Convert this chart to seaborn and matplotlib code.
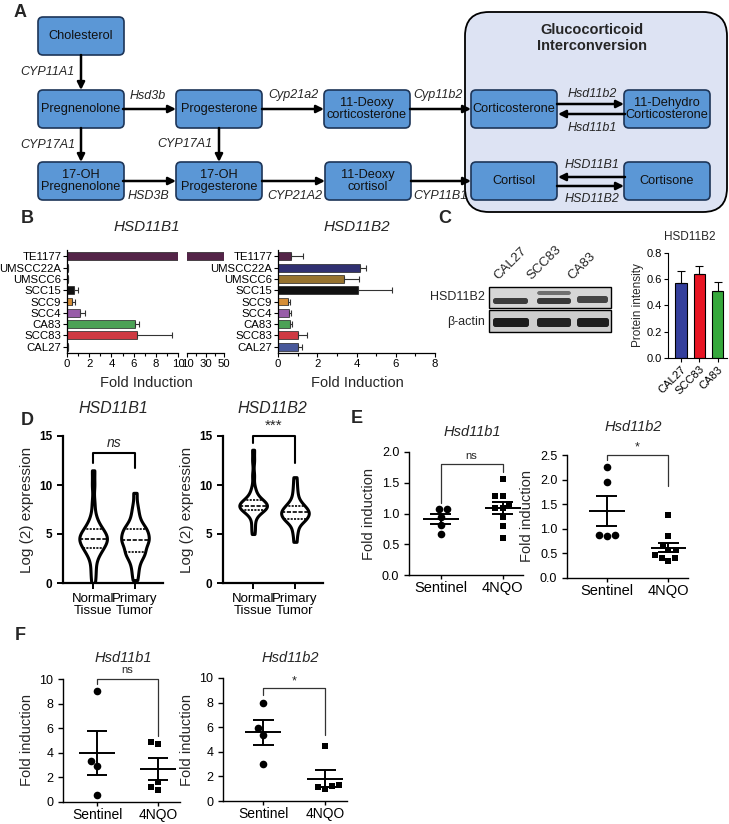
import numpy as np
import pandas as pd
import matplotlib
matplotlib.use("Agg")
import matplotlib.pyplot as plt
from matplotlib.patches import FancyBboxPatch, Rectangle
from matplotlib.ticker import FormatStrFormatter
import seaborn as sns

sns.set_style("ticks")
plt.rcParams["font.family"] = ["Liberation Sans", "DejaVu Sans"]
plt.rcParams["axes.edgecolor"] = "black"
plt.rcParams["xtick.color"] = "black"
plt.rcParams["ytick.color"] = "black"

# ---- data ----
# panel B: qPCR fold induction per cell line
b_cells = ["TE1177", "UMSCC22A", "UMSCC6", "SCC15", "SCC9", "SCC4", "CA83", "SCC83", "CAL27"]
b_colors = ["#5c1c4c", "#25257c", "#a8781e", "#111111", "#f0901c",
            "#a050b4", "#3cb04a", "#e8202c", "#3a50a8"]
hsd11b1_fold = [49.5, 0.05, 0.1, 0.6, 0.48, 1.14, 6.1, 6.3, 0.1]
hsd11b1_err = [0.0, 0.0, 0.0, 0.4, 0.22, 0.46, 0.4, 3.2, 0.0]
hsd11b2_fold = [0.68, 4.19, 3.37, 4.07, 0.5, 0.57, 0.6, 1.02, 1.02]
hsd11b2_err = [0.57, 0.31, 0.76, 1.76, 0.12, 0.11, 0.12, 0.45, 0.18]

# panel C: western blot quantification
c_lanes = ["CAL27", "SCC83", "CA83"]
c_colors = ["#343f9c", "#e81624", "#36a83c"]
c_intensity = [0.57, 0.64, 0.51]
c_err = [0.09, 0.06, 0.07]

# panel D: log2 expression
d_groups = ["Normal\nTissue", "Primary\nTumor"]
d1_normal = [0.0, 0.8, 1.5, 2.2, 2.8, 3.1, 3.3, 3.5, 3.6, 3.8, 4.0, 4.2, 4.3, 4.4, 4.5,
             4.5, 4.6, 4.8, 4.9, 5.0, 5.2, 5.4, 5.5, 5.7, 6.0, 6.4, 7.0, 8.2, 10.0, 11.5]
d1_tumor = [0.3, 1.0, 1.6, 2.1, 2.5, 2.8, 3.0, 3.1, 3.2, 3.5, 3.8, 4.0, 4.1, 4.3, 4.4,
            4.4, 4.6, 4.8, 5.0, 5.1, 5.3, 5.5, 5.5, 5.7, 6.0, 6.3, 6.8, 7.3, 8.0, 9.2]
d2_normal = [5.0, 5.6, 6.2, 6.8, 7.1, 7.3, 7.4, 7.5, 7.5, 7.6, 7.7, 7.8, 7.8, 7.9, 7.9,
             7.9, 8.0, 8.1, 8.2, 8.3, 8.3, 8.4, 8.5, 8.7, 9.0, 9.3, 9.8, 11.0, 12.5, 13.6]
d2_tumor = [4.2, 4.9, 5.4, 5.8, 6.1, 6.3, 6.4, 6.5, 6.6, 6.7, 6.8, 6.9, 7.0, 7.1, 7.2,
            7.2, 7.3, 7.4, 7.5, 7.6, 7.7, 7.9, 7.9, 8.1, 8.3, 8.6, 9.0, 9.5, 10.1, 10.8]

# panels E / F: mouse fold induction
ef_groups = ["Sentinel", "4NQO"]
e1_sentinel = [1.07, 1.07, 0.95, 0.815, 0.66]
e1_nqo = [1.56, 1.28, 1.28, 1.15, 1.09, 1.09, 0.95, 0.80, 0.60]
e2_sentinel = [2.26, 1.96, 0.85, 0.88, 0.88]
e2_nqo = [1.28, 0.845, 0.655, 0.57, 0.57, 0.47, 0.405, 0.405, 0.35]
f1_sentinel = [9.0, 3.3, 2.9, 0.6]
f1_nqo = [4.9, 4.7, 1.6, 1.2, 1.0]
f2_sentinel = [8.0, 5.9, 5.4, 3.0]
f2_nqo = [4.5, 1.3, 1.2, 1.15, 0.95]

W, H = 729, 824
fig = plt.figure(figsize=(W / 100, H / 100), dpi=100)


def px_axes(x0, y0, x1, y1):
    return fig.add_axes([x0 / W, 1 - y1 / H, (x1 - x0) / W, (y1 - y0) / H])


# overlay axes in pixel coordinates for diagram + free text
ov = fig.add_axes([0, 0, 1, 1])
ov.set_xlim(0, W)
ov.set_ylim(H, 0)
ov.axis("off")
ov.set_zorder(10)

# ---- panel A: pathway diagram ----
ov.add_patch(FancyBboxPatch((465, 12), 262, 200, boxstyle="round,pad=0,rounding_size=24",
                            facecolor="#dde3f3", edgecolor="black", lw=1.3))
ov.text(592, 38, "Glucocorticoid\nInterconversion", ha="center", va="center",
        fontsize=10.5, fontweight="bold", linespacing=1.15)

boxes = [("Cholesterol", 81, 36), ("Pregnenolone", 81, 109), ("17-OH\nPregnenolone", 81, 181),
         ("Progesterone", 219, 109), ("17-OH\nProgesterone", 219, 181),
         ("11-Deoxy\ncorticosterone", 367, 109), ("11-Deoxy\ncortisol", 368, 181),
         ("Corticosterone", 514, 109), ("11-Dehydro\nCorticosterone", 667, 109),
         ("Cortisol", 514, 181), ("Cortisone", 667, 181)]
for name, cx, cy in boxes:
    ov.add_patch(FancyBboxPatch((cx - 43, cy - 19), 86, 38, boxstyle="round,pad=0,rounding_size=5",
                                facecolor="#5b97d6", edgecolor="#1d3558", lw=1.2))
    ov.text(cx, cy, name, ha="center", va="center", fontsize=9.2, color="#111111", linespacing=1.05)


def arrow(x0, y0, x1, y1):
    ov.annotate("", xy=(x1, y1), xytext=(x0, y0),
                arrowprops=dict(arrowstyle="-|>", lw=1.8, color="black", mutation_scale=11,
                                shrinkA=0, shrinkB=0))


arrows = [((81, 55), (81, 90)), ((123, 109), (176, 109)), ((262, 109), (324, 109)),
          ((410, 109), (471, 109)), ((81, 128), (81, 162)), ((219, 128), (219, 162)),
          ((123, 181), (176, 181)), ((262, 181), (325, 181)), ((411, 181), (471, 181)),
          ((557, 104), (624, 104)), ((625, 114), (558, 114)),
          ((625, 177), (558, 177)), ((557, 186), (624, 186))]
for a, b in arrows:
    arrow(a[0], a[1], b[0], b[1])

enzymes = [("CYP11A1", 75, 72, "right"), ("Hsd3b", 148, 96, "center"), ("Cyp21a2", 293, 95, "center"),
           ("Cyp11b2", 438, 95, "center"), ("CYP17A1", 75, 145, "right"), ("CYP17A1", 212, 144, "right"),
           ("HSD3B", 148, 196, "center"), ("CYP21A2", 295, 196, "center"), ("CYP11B1", 440, 196, "center"),
           ("Hsd11b2", 592, 94, "center"), ("Hsd11b1", 592, 128, "center"),
           ("HSD11B1", 592, 165, "center"), ("HSD11B2", 592, 199, "center")]
for name, x, y, ha in enzymes:
    ov.text(x, y, name, ha=ha, va="center", fontsize=9, style="italic")

# panel letters
for letter, x, y in [("A", 20, 12), ("B", 27, 218), ("C", 445, 218),
                     ("D", 27, 420), ("E", 357, 418), ("F", 20, 635)]:
    ov.text(x, y, letter, ha="center", va="center", fontsize=13, fontweight="bold")

# ---- panel B ----
ax_b1 = px_axes(67, 250, 178, 353)
ax_b1b = px_axes(187, 250, 224, 353)
ax_b2 = px_axes(278, 250, 435, 353)


def hbar(ax, vals, errs=None):
    sns.barplot(x=vals, y=b_cells, hue=b_cells, palette=b_colors, order=b_cells,
                hue_order=b_cells, legend=False, orient="h", width=0.7,
                edgecolor="#222222", linewidth=0.5, ax=ax)
    if errs is not None:
        ax.errorbar(vals, np.arange(len(vals)), xerr=[np.zeros(len(errs)), errs], fmt="none",
                    ecolor="#333333", elinewidth=0.8, capsize=2, capthick=0.8)
    ax.set_ylim(8.55, -0.55)
    ax.set_xlabel("")
    ax.set_ylabel("")
    ax.tick_params(labelsize=8.2, length=3, width=0.8, pad=1)
    ax.tick_params(which="minor", length=2, width=0.8)
    for s in ax.spines.values():
        s.set_linewidth(0.9)
    sns.despine(ax=ax)


hbar(ax_b1, hsd11b1_fold, hsd11b1_err)
ax_b1.set_xlim(0, 10)
ax_b1.set_xticks([0, 2, 4, 6, 8, 10])
ax_b1.set_xticks([1, 3, 5, 7, 9], minor=True)

hbar(ax_b1b, hsd11b1_fold)
ax_b1b.set_xlim(10, 50)
ax_b1b.set_xticks([10, 30, 50])
ax_b1b.set_xticks([20, 40], minor=True)
ax_b1b.set_yticks([])
ax_b1b.spines["left"].set_visible(False)

hbar(ax_b2, hsd11b2_fold, hsd11b2_err)
ax_b2.set_xlim(0, 8)
ax_b2.set_xticks([0, 2, 4, 6, 8])
ax_b2.set_xticks([1, 3, 5, 7], minor=True)

ov.text(147, 227, "HSD11B1", ha="center", va="center", fontsize=11, style="italic")
ov.text(357, 227, "HSD11B2", ha="center", va="center", fontsize=11, style="italic")
ov.text(146, 383, "Fold Induction", ha="center", va="center", fontsize=10.5)
ov.text(357, 383, "Fold Induction", ha="center", va="center", fontsize=10.5)

# ---- panel C: blot + bar ----
ov.add_patch(Rectangle((489, 287), 122, 21, facecolor="#d6d6d6", edgecolor="black", lw=1))
ov.add_patch(Rectangle((489, 310), 122, 22, facecolor="#cdcdcd", edgecolor="black", lw=1))
bands = [(493, 298, 35, 6, "#3c3c3c"), (537, 291, 34, 4, "#707070"), (537, 298, 34, 6, "#383838"),
         (577, 296, 31, 7, "#444444"),
         (493, 318, 36, 9, "#1c1c1c"), (537, 318, 34, 9, "#222222"), (577, 318, 32, 9, "#1e1e1e")]
for bx, by, bw, bh, bc in bands:
    ov.add_patch(FancyBboxPatch((bx, by), bw, bh, boxstyle="round,pad=0,rounding_size=2.5",
                                facecolor=bc, edgecolor="none"))
ov.text(485, 297, "HSD11B2", ha="right", va="center", fontsize=9)
ov.text(485, 322, "β-actin", ha="right", va="center", fontsize=9)
for lane, lx in zip(c_lanes, [500, 534, 574]):
    ov.text(lx, 282, lane, rotation=45, rotation_mode="anchor", ha="left", va="bottom", fontsize=9.5)

ax_c = px_axes(668, 253, 727, 358)
sns.barplot(x=c_lanes, y=c_intensity, hue=c_lanes, palette=c_colors, order=c_lanes,
            legend=False, width=0.62, edgecolor="black", linewidth=0.8, saturation=1, ax=ax_c)
ax_c.errorbar(np.arange(3), c_intensity, yerr=[np.zeros(3), c_err], fmt="none",
              ecolor="black", elinewidth=0.8, capsize=3, capthick=0.8)
ax_c.set_ylim(0, 0.8)
ax_c.set_xlim(-0.7, 2.5)
ax_c.set_yticks([0, 0.2, 0.4, 0.6, 0.8])
ax_c.yaxis.set_major_formatter(FormatStrFormatter("%.1f"))
ax_c.set_xticks(range(3))
ax_c.set_xticklabels(c_lanes, rotation=45, ha="right", rotation_mode="anchor")
ax_c.tick_params(labelsize=8, length=3, width=0.8, pad=1.5)
ax_c.set_xlabel("")
ax_c.set_ylabel("Protein intensity", fontsize=8.5, labelpad=2)
sns.despine(ax=ax_c)
ov.text(690, 237, "HSD11B2", ha="center", va="center", fontsize=8.5)


def bracket(ax, top, left_low, right_low, text, text_y, **kw):
    ax.plot([0, 0, 1, 1], [left_low, top, top, right_low], color=kw.pop("color", "black"),
            lw=kw.pop("lw", 1.0), clip_on=False)
    ax.text(0.5, text_y, text, ha="center", va="center", clip_on=False, **kw)


# ---- panel D: violins ----
def violin_panel(ax, normal, tumor):
    df = pd.DataFrame({"group": [d_groups[0]] * len(normal) + [d_groups[1]] * len(tumor),
                       "value": normal + tumor})
    sns.violinplot(data=df, x="group", y="value", order=d_groups, ax=ax, inner="quart", cut=0,
                   color="white", linecolor="black", linewidth=2.2, density_norm="width",
                   width=0.66, bw_adjust=0.55, inner_kws=dict(linewidth=1.2))
    ax.set_ylim(0, 15)
    ax.set_xlim(-0.72, 1.67)
    ax.set_yticks([0, 5, 10, 15])
    ax.set_xlabel("")
    ax.set_ylabel("Log (2) expression", fontsize=11)
    ax.tick_params(axis="y", labelsize=8.5, length=4, width=1.4)
    ax.tick_params(axis="x", labelsize=9.5, length=4, width=1.4)
    for lab in ax.get_yticklabels():
        lab.set_fontweight("bold")
    for lab in ax.get_xticklabels():
        lab.set_linespacing(1.0)
    for s in ax.spines.values():
        s.set_linewidth(1.6)
    sns.despine(ax=ax)


ax_d1 = px_axes(63, 436, 163, 583)
violin_panel(ax_d1, d1_normal, d1_tumor)
bracket(ax_d1, 13.3, 12.2, 11.7, "ns", 14.3, fontsize=10, style="italic", lw=1.5)
ax_d2 = px_axes(223, 436, 323, 583)
violin_panel(ax_d2, d2_normal, d2_tumor)
bracket(ax_d2, 15.0, 14.3, 12.2, "***", 16.0, fontsize=11, lw=1.5)
ov.text(113, 408, "HSD11B1", ha="center", va="center", fontsize=11.5, style="italic")
ov.text(272, 408, "HSD11B2", ha="center", va="center", fontsize=11.5, style="italic")


# ---- panels E / F: dot plots with mean ± SEM ----
def dot_panel(ax, sentinel, nqo, ylim, yticks, fmt):
    sns.swarmplot(x=["Sentinel"] * len(sentinel), y=sentinel, order=ef_groups, color="black",
                  marker="o", size=5.5, ax=ax)
    sns.swarmplot(x=["4NQO"] * len(nqo), y=nqo, order=ef_groups, color="black",
                  marker="s", size=5, ax=ax)
    for i, vals in enumerate([sentinel, nqo]):
        v = np.array(vals)
        m = v.mean()
        se = v.std(ddof=1) / np.sqrt(len(v))
        ax.hlines(m, i - 0.29, i + 0.29, color="black", lw=1.4)
        ax.hlines([m - se, m + se], i - 0.17, i + 0.17, color="black", lw=1.4)
        ax.vlines(i, m - se, m + se, color="black", lw=1.4)
    ax.set_ylim(*ylim)
    ax.set_yticks(yticks)
    ax.yaxis.set_major_formatter(FormatStrFormatter(fmt))
    ax.set_xlabel("")
    ax.set_ylabel("Fold induction", fontsize=10.5)
    ax.tick_params(axis="y", labelsize=9, length=3.5, width=1)
    ax.tick_params(axis="x", labelsize=10.5, length=3, width=1, pad=1.5)
    for s in ax.spines.values():
        s.set_linewidth(1.0)
    sns.despine(ax=ax)


ax_e1 = px_axes(409, 452, 523, 575)
dot_panel(ax_e1, e1_sentinel, e1_nqo, (0, 2.0), [0, 0.5, 1.0, 1.5, 2.0], "%.1f")
ax_e1.set_xlim(-0.51, 1.33)
bracket(ax_e1, 1.81, 1.17, 1.67, "ns", 1.94, fontsize=8, color="#333333", lw=0.9)

ax_e2 = px_axes(567, 455, 688, 578)
dot_panel(ax_e2, e2_sentinel, e2_nqo, (0, 2.5), [0, 0.5, 1.0, 1.5, 2.0, 2.5], "%.1f")
ax_e2.set_xlim(-0.65, 1.32)
bracket(ax_e2, 2.5, 2.39, 1.87, "*", 2.66, fontsize=9, color="#333333", lw=0.9)

ax_f1 = px_axes(63, 679, 180, 802)
dot_panel(ax_f1, f1_sentinel, f1_nqo, (0, 10), [0, 2, 4, 6, 8, 10], "%d")
ax_f1.set_xlim(-0.56, 1.36)
bracket(ax_f1, 10.0, 9.6, 5.4, "ns", 10.75, fontsize=8, color="#333333", lw=0.9)

ax_f2 = px_axes(223, 678, 347, 801)
dot_panel(ax_f2, f2_sentinel, f2_nqo, (0, 10), [0, 2, 4, 6, 8, 10], "%d")
ax_f2.set_xlim(-0.645, 1.35)
bracket(ax_f2, 9.15, 8.6, 5.4, "*", 9.7, fontsize=9, color="#333333", lw=0.9)
for ax in (ax_f1, ax_f2):
    ax.tick_params(axis="x", labelsize=10)

ov.text(472, 432, "Hsd11b1", ha="center", va="center", fontsize=10.5, style="italic")
ov.text(633, 427, "Hsd11b2", ha="center", va="center", fontsize=10.5, style="italic")
ov.text(123, 658, "Hsd11b1", ha="center", va="center", fontsize=10.5, style="italic")
ov.text(290, 658, "Hsd11b2", ha="center", va="center", fontsize=10.5, style="italic")

fig.savefig("out.png", dpi=100)
